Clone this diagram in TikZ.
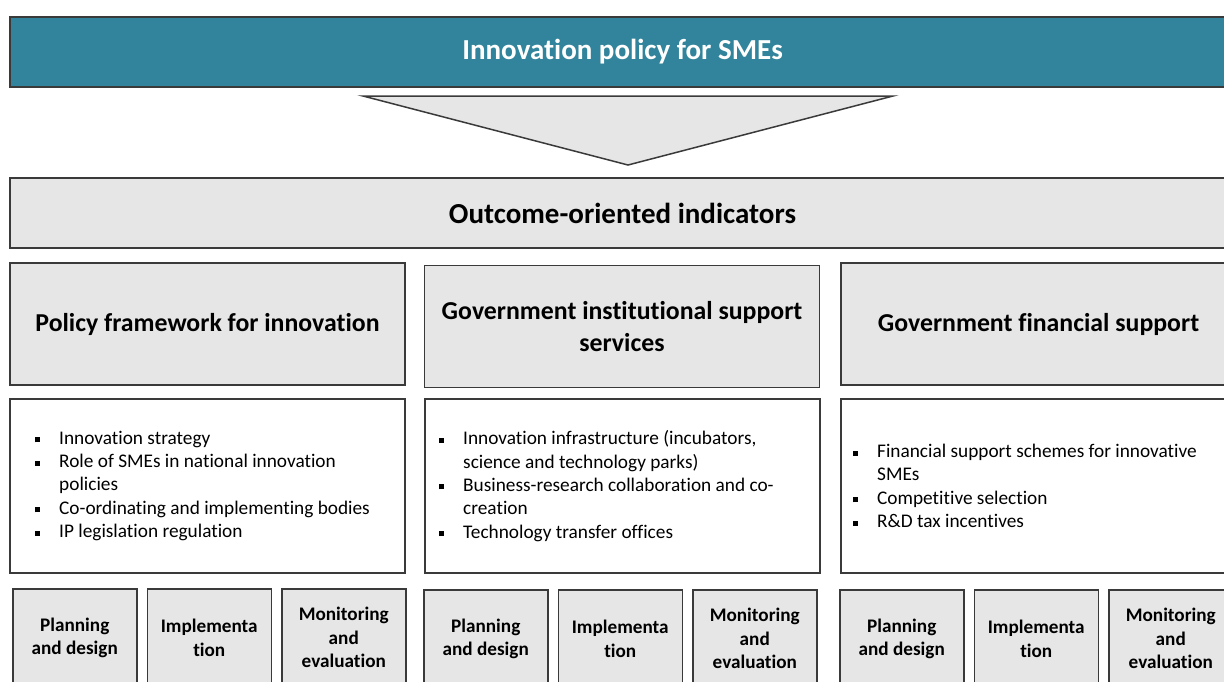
\documentclass[tikz,border=0pt]{standalone}
\usepackage{fontspec}
\setmainfont{Carlito}[Ligatures=NoCommon]
\usetikzlibrary{positioning}
\definecolor{tealband}{HTML}{31849B}
\definecolor{boxgrey}{HTML}{E6E6E6}
\definecolor{edgegrey}{HTML}{3A3A3A}
\newcommand{\bul}{\makebox[24pt][l]{\raisebox{2pt}{\rule{5pt}{5pt}}}}
\newcommand{\cont}{\hspace*{24pt}}

\begin{document}
\begin{tikzpicture}[x=1pt, y=-1pt, node distance=9pt,
    band/.style={rectangle, draw=edgegrey, line width=1.5pt, minimum width=1225pt, minimum height=70pt, inner sep=0pt},
    headbox/.style={rectangle, draw=edgegrey, line width=1.5pt, fill=boxgrey, minimum width=395pt, minimum height=122pt, align=center, font=\fontsize{25.8}{32}\selectfont\bfseries},
    listbox/.style={rectangle, draw=edgegrey, line width=1.5pt, fill=white, minimum width=395pt, minimum height=174pt},
    listtext/.style={anchor=west, inner sep=0pt, align=left, font=\fontsize{19.3}{23.3}\selectfont},
    stagebox/.style={rectangle, draw=edgegrey, line width=1.5pt, fill=boxgrey, minimum width=124pt, minimum height=98pt, inner sep=0pt, align=center, anchor=north west, font=\fontsize{19.2}{23.5}\selectfont\bfseries}]
    \useasboundingbox (0,0) rectangle (1224,681);
    \clip (0,0) rectangle (1224,681);

    % Nodes
    \node (policy) [band, fill=tealband, text=white, font=\fontsize{29}{34}\selectfont\bfseries] at (622.5,52) {Innovation policy for SMEs};
    \node (outcome) [band, fill=boxgrey, font=\fontsize{29}{34}\selectfont\bfseries] at (622.5,213) {Outcome-oriented indicators};

    \node (framework) [headbox] at (207.5,324) {Policy framework for innovation};
    \node (institutional) [headbox] at (622,326.5) {Government institutional support\\services};
    \node (financial) [headbox] at (1038.5,324) {Government financial support};

    \node (framework_list) [listbox] at (207.5,486) {};
    \node (institutional_list) [listbox] at (622.5,486) {};
    \node (financial_list) [listbox] at (1038.5,486) {};

    \node (framework_items) [listtext] at (35,486) {\bul Innovation strategy\\
      \bul Role of SMEs in national innovation\\
      \cont policies\\
      \bul Co-ordinating and implementing bodies\\
      \bul IP legislation regulation};
    \node (institutional_items) [listtext] at (439,486) {\bul Innovation infrastructure (incubators,\\
      \cont science and technology parks)\\
      \bul Business-research collaboration and co-\\
      \cont creation\\
      \bul Technology transfer offices};
    \node (financial_items) [listtext] at (853,486) {\bul Financial support schemes for innovative\\
      \cont SMEs\\
      \bul Competitive selection\\
      \bul R\&D tax incentives};

    % Stages under each column
    \node (plan1) [stagebox] at (12,588) {Planning\\and design};
    \node (impl1) [stagebox, right=of plan1] {Implementa\\tion};
    \node (moni1) [stagebox, right=of impl1] {Monitoring\\and\\evaluation};

    \node (plan2) [stagebox] at (423,589) {Planning\\and design};
    \node (impl2) [stagebox, right=of plan2] {Implementa\\tion};
    \node (moni2) [stagebox, right=of impl2] {Monitoring\\and\\evaluation};

    \node (plan3) [stagebox] at (839,589) {Planning\\and design};
    \node (impl3) [stagebox, right=of plan3] {Implementa\\tion};
    \node (moni3) [stagebox, right=of impl3] {Monitoring\\and\\evaluation};

    % Arrow
    \draw[draw=edgegrey, line width=1.5pt, fill=boxgrey, line join=miter] (363,96) -- (893,96) -- (628,165) -- cycle;
\end{tikzpicture}
\end{document}
